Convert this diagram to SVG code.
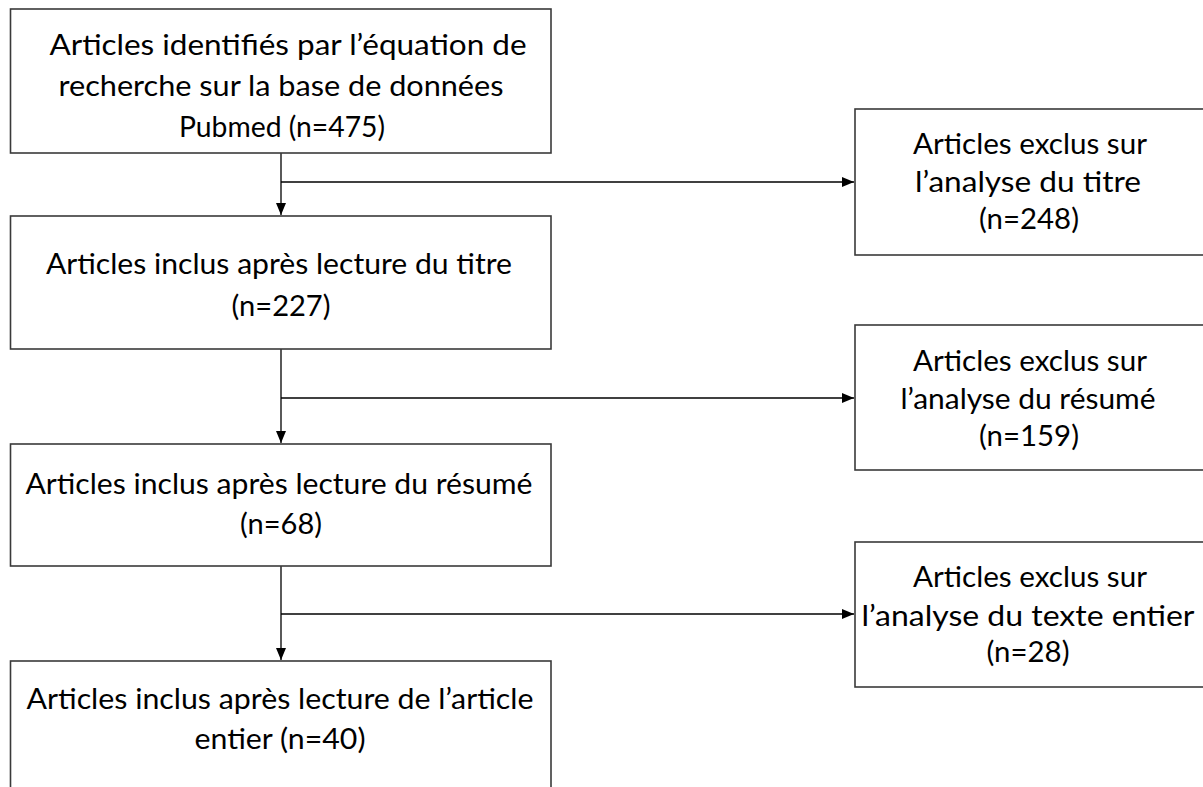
<svg xmlns="http://www.w3.org/2000/svg" width="1203" height="787" viewBox="0 0 1203 787">
<style>
.box{fill:#ffffff;stroke:#3a3a3a;stroke-width:1.6}
.t{font-family:Lato,"Open Sans",sans-serif;font-size:29px;fill:#000;text-anchor:middle}
.c{fill:none;stroke:#000;stroke-width:1.3}
</style>
<defs>
<marker id="ah" markerUnits="userSpaceOnUse" markerWidth="12" markerHeight="10" refX="12" refY="5" orient="auto">
<path d="M0,0 L12,5 L0,10 Z" fill="#000"/>
</marker>
</defs>
<rect width="1203" height="787" fill="#fff"/>
<g id="connectors">
<path class="c" d="M281,153 V215" marker-end="url(#ah)"/>
<path class="c" d="M281,182 H854" marker-end="url(#ah)"/>
<path class="c" d="M281,349 V443" marker-end="url(#ah)"/>
<path class="c" d="M281,398 H854" marker-end="url(#ah)"/>
<path class="c" d="M281,566 V660" marker-end="url(#ah)"/>
<path class="c" d="M281,614 H854" marker-end="url(#ah)"/>
</g>
<g id="n1">
<rect class="box" x="10.5" y="9" width="540.5" height="144"/>
<text class="t" x="288" y="55" textLength="477" lengthAdjust="spacingAndGlyphs">Articles identifiés par l’équation de</text>
<text class="t" x="281" y="96" textLength="445" lengthAdjust="spacingAndGlyphs">recherche sur la base de données</text>
<text class="t" x="282" y="137" textLength="206" lengthAdjust="spacingAndGlyphs">Pubmed (n=475)</text>
</g>
<g id="n2">
<rect class="box" x="10.5" y="216" width="540.5" height="133"/>
<text class="t" x="279" y="274" textLength="466" lengthAdjust="spacingAndGlyphs">Articles inclus après lecture du titre</text>
<text class="t" x="281" y="316" textLength="99" lengthAdjust="spacingAndGlyphs">(n=227)</text>
</g>
<g id="n3">
<rect class="box" x="10.5" y="444" width="540.5" height="122"/>
<text class="t" x="279" y="494" textLength="507" lengthAdjust="spacingAndGlyphs">Articles inclus après lecture du résumé</text>
<text class="t" x="281" y="534" textLength="82" lengthAdjust="spacingAndGlyphs">(n=68)</text>
</g>
<g id="n4">
<rect class="box" x="10.5" y="661" width="540.5" height="140"/>
<text class="t" x="280" y="709" textLength="507" lengthAdjust="spacingAndGlyphs">Articles inclus après lecture de l’article</text>
<text class="t" x="280" y="749" textLength="171" lengthAdjust="spacingAndGlyphs">entier (n=40)</text>
</g>
<g id="n5">
<rect class="box" x="855" y="109" width="352" height="146"/>
<text class="t" x="1030" y="154" textLength="234" lengthAdjust="spacingAndGlyphs">Articles exclus sur</text>
<text class="t" x="1028" y="192" textLength="226" lengthAdjust="spacingAndGlyphs">l’analyse du titre</text>
<text class="t" x="1029" y="229" textLength="100" lengthAdjust="spacingAndGlyphs">(n=248)</text>
</g>
<g id="n6">
<rect class="box" x="855" y="325" width="352" height="145"/>
<text class="t" x="1030" y="371" textLength="234" lengthAdjust="spacingAndGlyphs">Articles exclus sur</text>
<text class="t" x="1028" y="409" textLength="255" lengthAdjust="spacingAndGlyphs">l’analyse du résumé</text>
<text class="t" x="1029" y="446" textLength="100" lengthAdjust="spacingAndGlyphs">(n=159)</text>
</g>
<g id="n7">
<rect class="box" x="855" y="542" width="352" height="145"/>
<text class="t" x="1030" y="587" textLength="234" lengthAdjust="spacingAndGlyphs">Articles exclus sur</text>
<text class="t" x="1028" y="626" textLength="333" lengthAdjust="spacingAndGlyphs">l’analyse du texte entier</text>
<text class="t" x="1028" y="662" textLength="83" lengthAdjust="spacingAndGlyphs">(n=28)</text>
</g>
</svg>
